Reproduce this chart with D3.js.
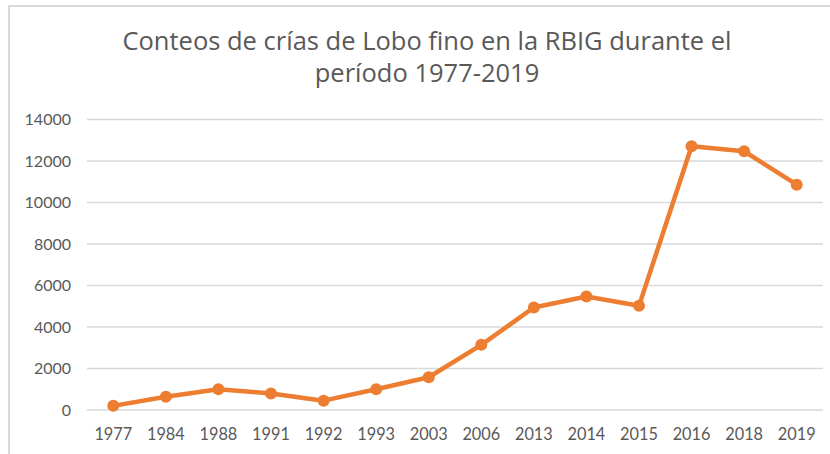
<!DOCTYPE html>
<html><head><meta charset="utf-8">
<script src="https://cdn.jsdelivr.net/npm/d3@7"></script>
<style>body{margin:0;background:#fff;}svg{display:block;}</style>
</head><body>
<svg id="c" width="830" height="454"></svg>
<script>
const titleLines = ["Conteos de crías de Lobo fino en la RBIG durante el", "período 1977-2019"];
const years = ["1977","1984","1988","1991","1992","1993","2003","2006","2013","2014","2015","2016","2018","2019"];
const counts = [200, 640, 1000, 800, 450, 1000, 1580, 3140, 4940, 5470, 5020, 12710, 12470, 10860];
const yTicks = [0, 2000, 4000, 6000, 8000, 10000, 12000, 14000];

const svg = d3.select("#c");
const font = "Lato, 'Open Sans', sans-serif";
const titleFont = "'Open Sans', Lato, sans-serif";
const txt = "#595959";

// frame
svg.append("path").attr("d","M9,454 V6 H830").attr("fill","none").attr("stroke","#d9d9d9").attr("stroke-width",2);

const x = d3.scaleBand().domain(years).range([87, 823]);
const y = d3.scaleLinear().domain([0, 14000]).range([410, 119.5]);

// gridlines
svg.append("g").selectAll("line").data(yTicks).join("line")
  .attr("x1", 87).attr("x2", 823)
  .attr("y1", d => y(d)).attr("y2", d => y(d))
  .attr("stroke", "#d9d9d9").attr("stroke-width", 1.3);

// y axis labels
const ya = svg.append("g").attr("transform","translate(71,0)")
  .call(d3.axisLeft(y).tickValues(yTicks).tickSize(0).tickPadding(0).tickFormat(d3.format("d")));
ya.select(".domain").remove();
ya.selectAll("text").attr("fill", txt).style("font-family", font).style("font-size","16px");

// x axis labels
const xa = svg.append("g").attr("transform","translate(0,428)")
  .call(d3.axisBottom(x).tickSize(0).tickPadding(0));
xa.select(".domain").remove();
xa.selectAll("text").attr("fill", txt).style("font-family", font).style("font-size","16.3px");

// line
const pts = years.map((yr,i)=>({yr, v:counts[i]}));
svg.append("path").datum(pts)
  .attr("d", d3.line().x(d=>x(d.yr)+x.bandwidth()/2).y(d=>y(d.v)))
  .attr("fill","none").attr("stroke","#ED7D31").attr("stroke-width",4.5).attr("stroke-linejoin","round");
svg.append("g").selectAll("circle").data(pts).join("circle")
  .attr("cx", d=>x(d.yr)+x.bandwidth()/2).attr("cy", d=>y(d.v)).attr("r",6)
  .attr("fill","#ED7D31");

// title
svg.append("g").selectAll("text").data(titleLines).join("text")
  .attr("x", 427).attr("y", (d,i)=>49.5 + i*32)
  .attr("text-anchor","middle").attr("fill", txt)
  .style("font-family", titleFont).style("font-size","25.5px")
  .text(d=>d);
</script>
</body></html>
